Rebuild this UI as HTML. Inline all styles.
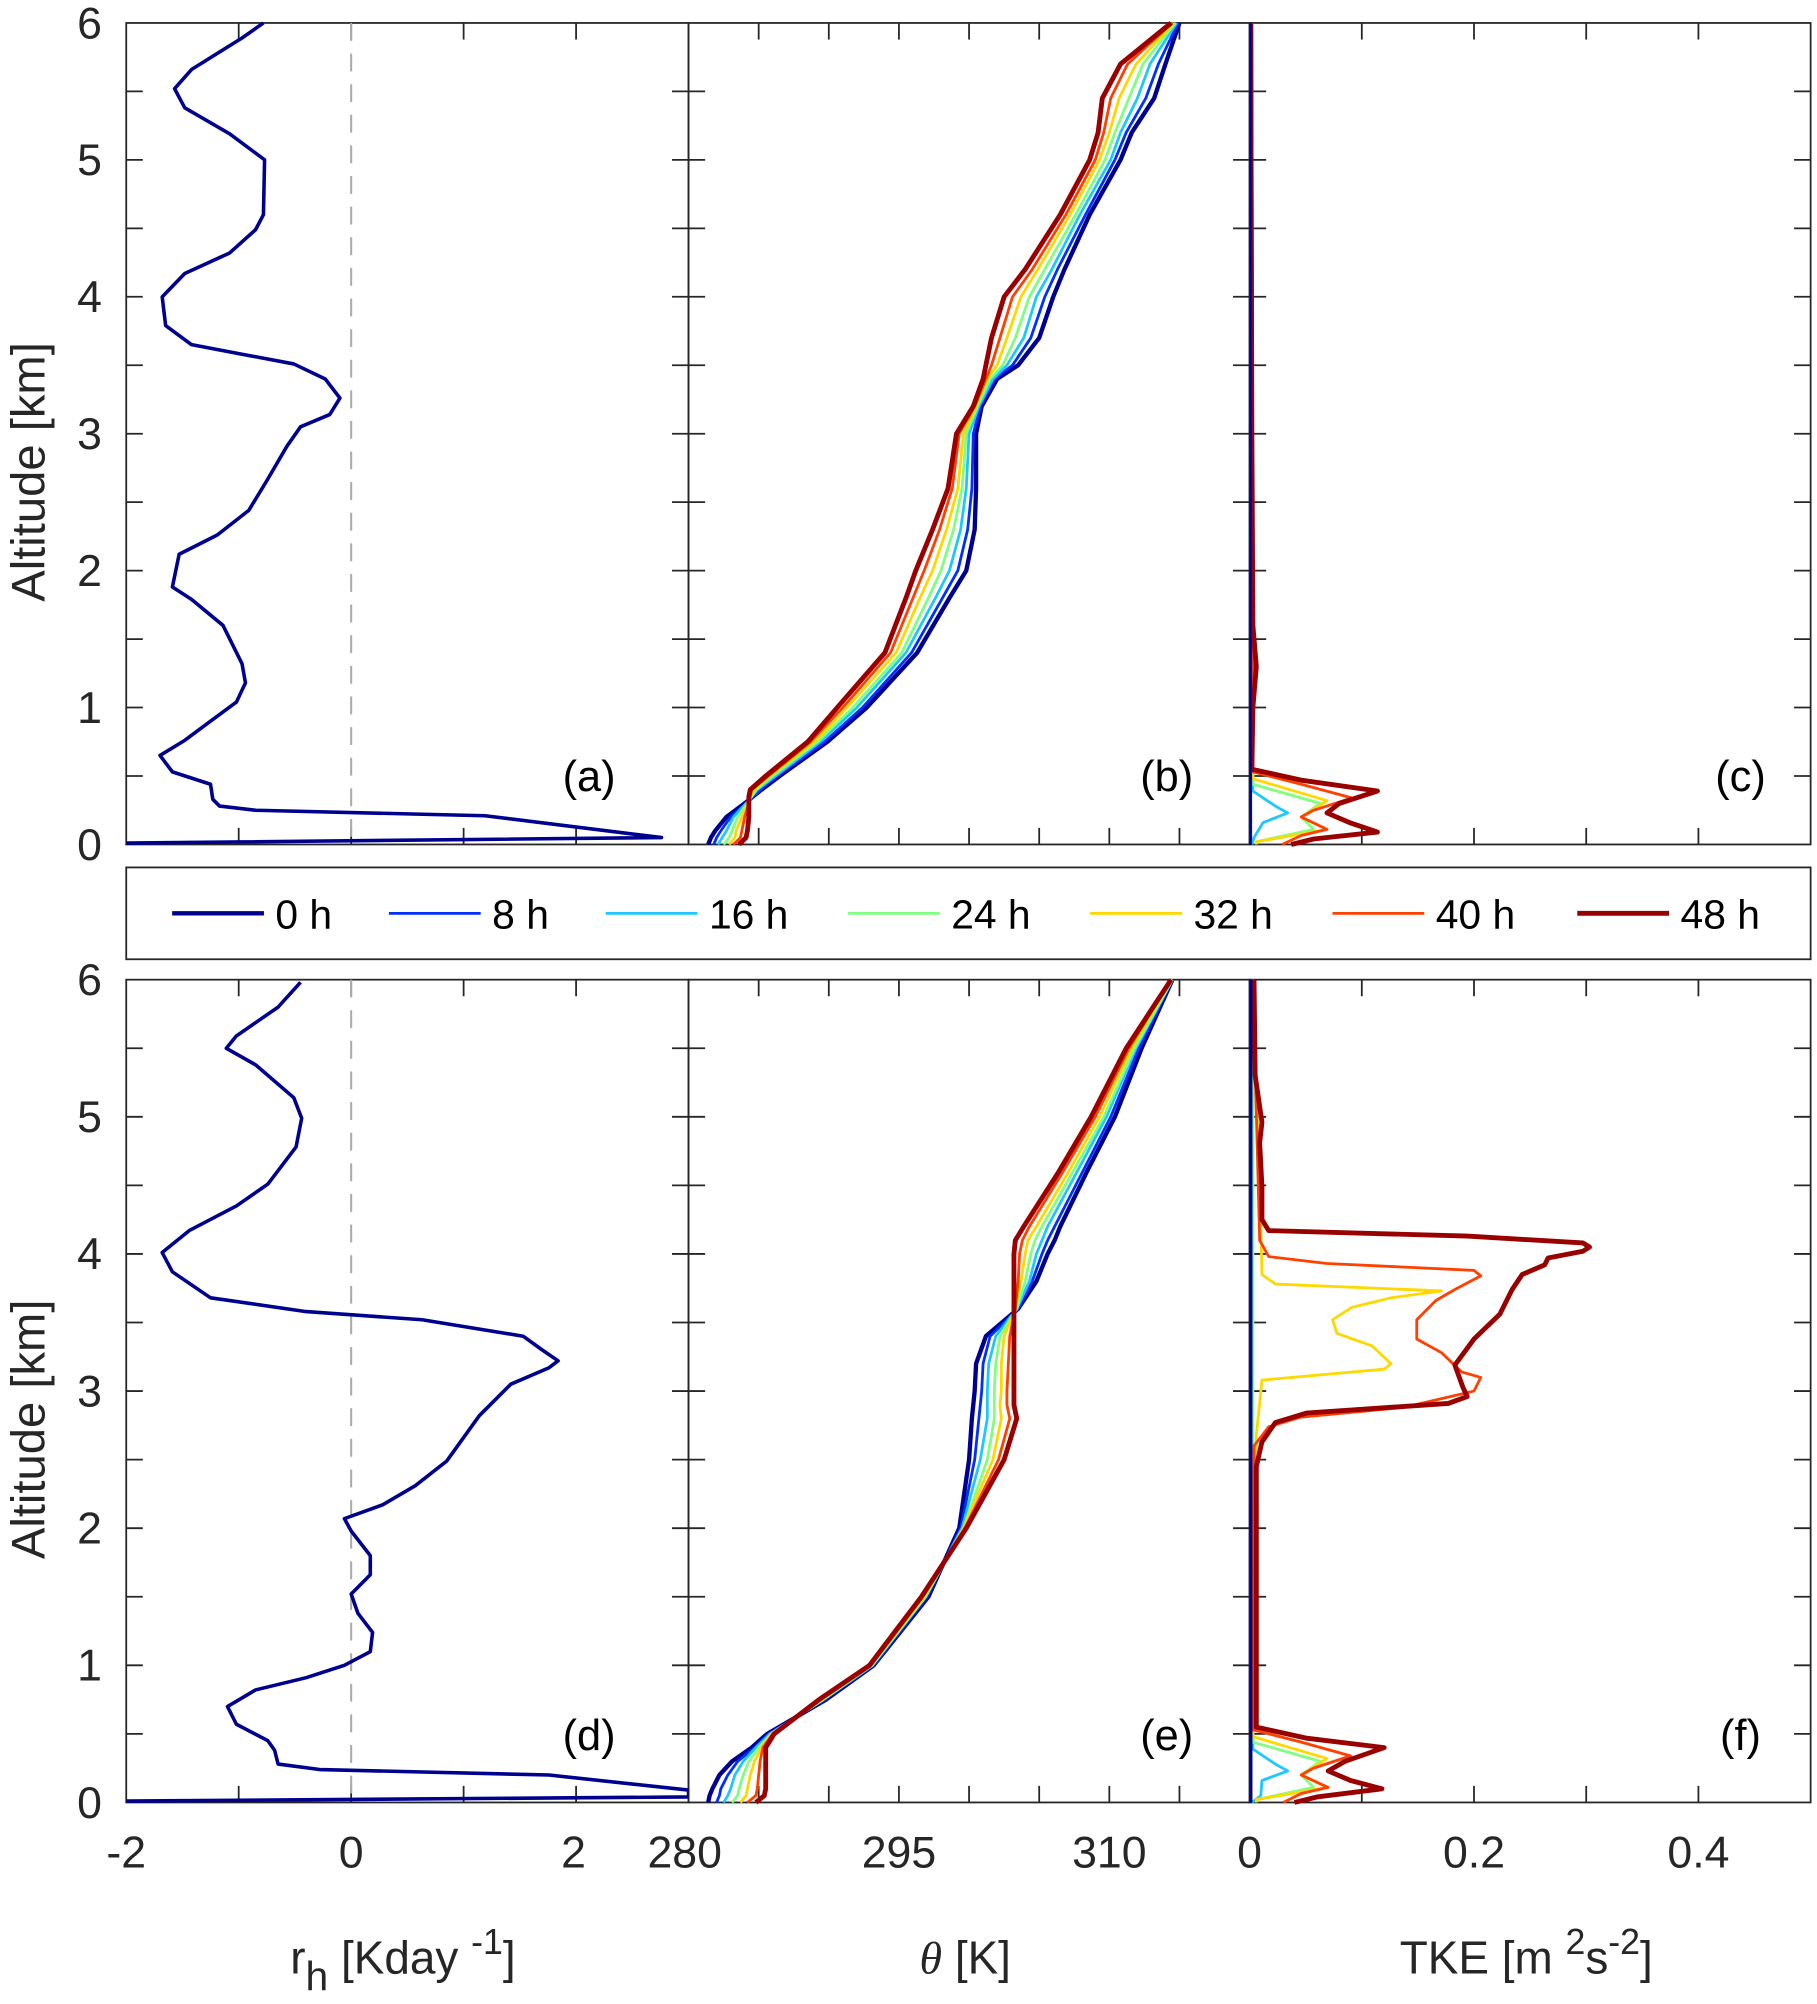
<!DOCTYPE html>
<html><head><meta charset="utf-8"><style>
html,body{margin:0;padding:0;background:#fff;}
svg{display:block;}
text{font-family:"Liberation Sans",Arial,sans-serif;}
</style></head>
<body>
<svg id="fig" width="1817" height="2004" viewBox="0 0 1425 1571" preserveAspectRatio="none" xmlns="http://www.w3.org/2000/svg"></svg>
<script>
// ---------- data ----------
const seriesNames = ["0 h","8 h","16 h","24 h","32 h","40 h","48 h"];
const seriesColors = ["#00008F","#0030FF","#1EC8FF","#80FF80","#FFD800","#FF4000","#990000"];
const seriesWidths = [3.4,2.2,2.2,2.2,2.2,2.2,3.8];

// panel a / d heating rate
const rhTopZ = [6,5.89,5.66,5.52,5.38,5.19,5.0,4.6,4.49,4.32,4.17,4.0,3.79,3.65,3.58,3.51,3.40,3.26,3.14,3.05,2.91,2.67,2.44,2.26,2.12,1.88,1.79,1.6,1.32,1.18,1.04,0.9,0.76,0.65,0.53,0.44,0.33,0.28,0.25,0.21,0.05,0.01];
const rhTopV = [-0.78,-0.97,-1.42,-1.57,-1.48,-1.08,-0.77,-0.78,-0.85,-1.08,-1.48,-1.68,-1.65,-1.42,-0.97,-0.51,-0.23,-0.1,-0.19,-0.45,-0.57,-0.74,-0.91,-1.19,-1.53,-1.59,-1.42,-1.14,-0.97,-0.94,-1.02,-1.25,-1.48,-1.70,-1.59,-1.25,-1.23,-1.17,-0.85,1.19,2.76,-2.0];
const rhBotZ = [5.98,5.8,5.59,5.5,5.38,5.14,4.99,4.78,4.51,4.35,4.17,4.01,3.87,3.68,3.58,3.52,3.40,3.30,3.22,3.17,3.05,2.82,2.49,2.31,2.17,2.07,1.98,1.80,1.66,1.52,1.38,1.24,1.10,1.0,0.91,0.82,0.70,0.57,0.45,0.38,0.28,0.24,0.2,0.09,0.04,0.01];
const rhBotV = [-0.45,-0.65,-1.02,-1.11,-0.85,-0.51,-0.44,-0.49,-0.74,-1.02,-1.44,-1.68,-1.59,-1.25,-0.40,0.63,1.53,1.70,1.84,1.76,1.42,1.14,0.85,0.57,0.28,-0.06,0,0.17,0.17,0,0.06,0.19,0.17,-0.06,-0.4,-0.85,-1.10,-1.02,-0.74,-0.68,-0.65,-0.28,1.76,3.0,3.0,-2.0];

// panel b theta
const thTopZ = [0,0.05,0.1,0.2,0.3,0.35,0.4,0.5,0.75,1.0,1.4,1.8,2.0,2.3,2.6,3.0,3.2,3.4,3.5,3.7,4.0,4.2,4.6,5.0,5.2,5.45,5.7,6.0];
const thTop0 = [281.4,281.6,281.9,282.7,284.0,284.6,285.2,286.5,289.9,292.7,296.3,298.6,299.8,300.4,300.5,300.5,300.9,302.0,303.5,305.0,306.0,306.8,308.6,310.8,311.6,313.2,314.0,315.0];
const thTop8 = [281.8,282.0,282.3,283.0,284.1,284.6,285.1,286.3,289.7,292.4,295.9,298.1,299.2,299.9,300.2,300.3,300.8,301.8,303.1,304.4,305.4,306.3,308.3,310.4,311.2,312.6,313.5,314.9];
const thTop16 = [282.1,282.4,282.7,283.2,284.1,284.5,284.9,286.2,289.4,292.0,295.5,297.6,298.6,299.4,299.8,300.0,300.7,301.7,302.7,303.9,304.8,305.9,307.9,310.1,310.8,312.0,312.9,314.8];
const thTop24 = [282.5,282.9,283.1,283.5,284.2,284.5,284.8,286.0,289.2,291.7,295.2,297.1,298.0,298.9,299.5,299.8,300.6,301.5,302.4,303.3,304.3,305.4,307.6,309.7,310.4,311.4,312.4,314.7];
const thTop32 = [282.9,283.3,283.4,283.8,284.2,284.4,284.7,285.8,289.0,291.3,294.8,296.5,297.4,298.4,299.2,299.6,300.5,301.3,302.0,302.7,303.7,304.9,307.2,309.3,310.0,310.7,311.9,314.6];
const thTop40 = [283.2,283.7,283.8,284.0,284.3,284.4,284.5,285.7,288.7,291.0,294.4,296.0,296.8,297.9,298.8,299.3,300.4,301.2,301.6,302.2,303.1,304.5,306.9,309.0,309.6,310.1,311.3,314.5];
const thTop48 = [283.6,284.1,284.2,284.3,284.3,284.3,284.4,285.5,288.5,290.6,294.0,295.5,296.2,297.4,298.5,299.1,300.3,301.0,301.2,301.6,302.5,304.0,306.5,308.6,309.2,309.5,310.8,314.4];

// panel e theta
const thBotZ = [0,0.05,0.1,0.2,0.3,0.4,0.5,0.75,1.0,1.5,2.0,2.5,2.8,2.9,3.0,3.2,3.4,3.6,3.8,4.0,4.1,4.2,4.6,5.0,5.5,6.0];
const thBot0 = [281.4,281.5,281.7,282.2,283.1,284.5,285.6,289.8,293.2,297.1,299.3,300.0,300.2,300.3,300.4,300.5,301.2,303.5,304.8,305.6,306.1,306.5,308.4,310.4,312.3,314.5];
const thBot8 = [282.0,282.2,282.3,282.8,283.5,284.7,285.7,289.7,293.2,297.0,299.4,300.4,300.7,300.8,300.9,301.0,301.5,303.5,304.5,305.2,305.6,306.1,308.1,310.1,312.1,314.5];
const thBot16 = [282.5,282.8,283.0,283.3,283.9,284.8,285.8,289.6,293.1,296.9,299.5,300.8,301.3,301.3,301.3,301.4,301.9,303.4,304.3,304.8,305.2,305.6,307.7,309.8,311.9,314.5];
const thBot24 = [283.1,283.5,283.6,283.9,284.3,285.0,285.9,289.6,293.1,296.9,299.6,301.3,301.8,301.8,301.8,301.9,302.2,303.4,304.0,304.4,304.7,305.2,307.4,309.6,311.8,314.5];
const thBot32 = [283.7,284.1,284.2,284.4,284.7,285.2,285.9,289.5,293.0,296.8,299.6,301.7,302.3,302.2,302.3,302.3,302.5,303.3,303.7,304.0,304.2,304.8,307.1,309.3,311.6,314.4];
const thBot40 = [284.2,284.8,284.9,285.0,285.1,285.3,286.0,289.4,293.0,296.7,299.7,302.1,302.9,302.7,302.7,302.8,302.9,303.3,303.5,303.6,303.8,304.3,306.7,309.0,311.4,314.4];
const thBot48 = [284.8,285.4,285.5,285.5,285.5,285.5,286.1,289.3,292.9,296.6,299.8,302.5,303.4,303.2,303.2,303.2,303.2,303.2,303.2,303.2,303.3,303.9,306.4,308.7,311.2,314.4];

// panel c TKE (top)
const tkeTopZ0 = [0,6]; const tkeTopV0 = [0,0];
const tkeTopZ8 = [0,6]; const tkeTopV8 = [0.001,0.001];
const tkeTopZ16 = [0,0.05,0.16,0.23,0.28,0.39,6]; const tkeTopV16 = [0.002,0.004,0.012,0.034,0.023,0.003,0.002];
const tkeTopZ24 = [0,0.02,0.11,0.2,0.3,0.44,6]; const tkeTopV24 = [0.006,0.006,0.057,0.046,0.063,0.003,0.002];
const tkeTopZ32 = [0,0.02,0.11,0.2,0.32,0.48,6]; const tkeTopV32 = [0.006,0.006,0.069,0.046,0.069,0.003,0.002];
const tkeTopZ40 = [0,0.065,0.11,0.2,0.25,0.34,0.44,0.53,6]; const tkeTopV40 = [0.029,0.046,0.069,0.046,0.057,0.091,0.046,0.003,0.002];
const tkeTopZ48 = [0,0.04,0.09,0.16,0.23,0.3,0.39,0.47,0.55,1.0,1.3,1.6,3.0,6.0]; const tkeTopV48 = [0.037,0.057,0.114,0.089,0.069,0.08,0.114,0.046,0.002,0.003,0.006,0.003,0.002,0.001];

// panel f TKE (bottom)
const tkeBotZ0 = [0,6]; const tkeBotV0 = [0,0];
const tkeBotZ8 = [0,6]; const tkeBotV8 = [0.001,0.001];
const tkeBotZ16 = [0,0.05,0.16,0.23,0.28,0.39,6]; const tkeBotV16 = [0.002,0.01,0.011,0.034,0.023,0.003,0.002];
const tkeBotZ24 = [0,0.02,0.11,0.2,0.3,0.44,6]; const tkeBotV24 = [0.006,0.006,0.057,0.046,0.063,0.003,0.003];
const tkeBotZ32 = [0,0.02,0.11,0.2,0.32,0.48,2.68,3.08,3.16,3.2,3.33,3.42,3.52,3.61,3.68,3.73,3.78,3.85,4.2,6.0];
const tkeBotV32 = [0.006,0.006,0.069,0.046,0.069,0.003,0.006,0.011,0.12,0.126,0.109,0.078,0.074,0.091,0.126,0.171,0.023,0.011,0.01,0.003];
const tkeBotZ40 = [0,0.065,0.11,0.2,0.25,0.34,0.44,0.53,2.6,2.74,2.81,2.88,3.0,3.1,3.14,3.28,3.38,3.52,3.66,3.74,3.84,3.88,3.93,3.98,4.1,6.0];
const tkeBotV40 = [0.03,0.046,0.07,0.046,0.057,0.09,0.046,0.003,0.004,0.017,0.046,0.137,0.2,0.206,0.189,0.171,0.149,0.149,0.166,0.183,0.206,0.2,0.069,0.017,0.009,0.003];
const tkeBotZ48 = [0,0.04,0.1,0.16,0.23,0.3,0.4,0.47,0.55,1.15,2.45,2.63,2.77,2.84,2.91,2.96,3.03,3.19,3.38,3.56,3.74,3.85,3.92,3.97,4.02,4.05,4.08,4.13,4.17,4.25,4.49,4.81,4.96,5.3,6.0];
const tkeBotV48 = [0.04,0.06,0.118,0.09,0.07,0.085,0.12,0.05,0.006,0.006,0.006,0.011,0.023,0.051,0.177,0.194,0.19,0.183,0.2,0.223,0.234,0.243,0.263,0.266,0.297,0.303,0.297,0.194,0.017,0.011,0.011,0.009,0.011,0.005,0.004];

const yTickLabels = ["0","1","2","3","4","5","6"];
const rhTickLabels = ["-2","0","2"];
const thTickLabels = ["280","295","310"];
const tkeTickLabels = ["0","0.2","0.4"];

// ---------- drawing ----------
const NS = "http://www.w3.org/2000/svg";
const svg = document.getElementById("fig");
function mk(tag, attrs, parent){
  const e = document.createElementNS(NS, tag);
  for (const k in attrs) e.setAttribute(k, attrs[k]);
  (parent||svg).appendChild(e);
  return e;
}
const AX = "#262626";
const colsX = [[99,540],[540,980],[980,1420]];
const rows = [[18,662],[768,1413]];
const xDom = [[-2,3],[280,320],[0,0.5]];
const xStep = [1,5,0.1];

function xs(c,v){ const d=xDom[c]; return colsX[c][0] + (v-d[0])/(d[1]-d[0])*(colsX[c][1]-colsX[c][0]); }
function ys(r,z){ return rows[r][1] - z/6*(rows[r][1]-rows[r][0]); }

function drawLine(c,r,zArr,vArr,color,w,name){
  let d = "";
  for (let i=0;i<zArr.length;i++){
    d += (i?"L":"M") + xs(c,vArr[i]).toFixed(1) + "," + ys(r,zArr[i]).toFixed(1);
  }
  const p = mk("path",{d:d,fill:"none",stroke:color,"stroke-width":w,"stroke-linejoin":"round","clip-path":"url(#clip"+c+r+")"});
  
  
}

const defs = mk("defs",{});
for (let c=0;c<3;c++) for (let r=0;r<2;r++){
  const cp = mk("clipPath",{id:"clip"+c+r},defs);
  mk("rect",{x:colsX[c][0],y:rows[r][0]-2,width:colsX[c][1]-colsX[c][0],height:rows[r][1]-rows[r][0]+4},cp);
}

const panelLetters = [["(a)","(b)","(c)"],["(d)","(e)","(f)"]];
const letterX = [462,915,1365];
for (let r=0;r<2;r++){
  for (let c=0;c<3;c++){
    const x0=colsX[c][0], x1=colsX[c][1], y0=rows[r][0], y1=rows[r][1];
    const g = mk("g",{});
    
    
    mk("rect",{x:x0,y:y0,width:x1-x0,height:y1-y0,fill:"none",stroke:AX,"stroke-width":1.4},g);
    for (let z=0.5; z<6; z+=0.5){
      const y=ys(r,z);
      mk("line",{x1:x0,x2:x0+13,y1:y,y2:y,stroke:AX,"stroke-width":1.4},g);
      mk("line",{x1:x1-13,x2:x1,y1:y,y2:y,stroke:AX,"stroke-width":1.4},g);
    }
    const d=xDom[c];
    for (let v=d[0]+xStep[c]; v<d[1]-1e-9; v+=xStep[c]){
      const x=xs(c,v);
      mk("line",{x1:x,x2:x,y1:y1,y2:y1-13,stroke:AX,"stroke-width":1.4},g);
      mk("line",{x1:x,x2:x,y1:y0,y2:y0+13,stroke:AX,"stroke-width":1.4},g);
    }
    const t = mk("text",{x:letterX[c],y:(r?1372:620),"font-size":34,"text-anchor":"middle",fill:"#000"});
    t.textContent = panelLetters[r][c];
    
    
  }
  for (let i=0;i<yTickLabels.length;i++){
    const t = mk("text",{x:80,y:ys(r,+yTickLabels[i])+12,"font-size":35,"text-anchor":"end",fill:AX});
    t.textContent = yTickLabels[i];
    
    
  }
  const yc = (rows[r][0]+rows[r][1])/2+30;
  const yt = mk("text",{x:0,y:0,"font-size":37,"text-anchor":"middle",fill:AX,transform:"translate(35,"+yc+") rotate(-90)"});
  yt.textContent = "Altitude [km]";
  
  
  const dz = mk("line",{x1:xs(0,0),x2:xs(0,0),y1:rows[r][0],y2:rows[r][1],stroke:"#AAAAAA","stroke-width":1.6,"stroke-dasharray":"14,10"});
  
  
}

drawLine(0,0,rhTopZ,rhTopV,"#00008F",2.8,"heating-rate-line");
drawLine(0,1,rhBotZ,rhBotV,"#00008F",2.8,"heating-rate-line");
const thTop=[thTop0,thTop8,thTop16,thTop24,thTop32,thTop40,thTop48];
const thBot=[thBot0,thBot8,thBot16,thBot24,thBot32,thBot40,thBot48];
const tkTZ=[tkeTopZ0,tkeTopZ8,tkeTopZ16,tkeTopZ24,tkeTopZ32,tkeTopZ40,tkeTopZ48];
const tkTV=[tkeTopV0,tkeTopV8,tkeTopV16,tkeTopV24,tkeTopV32,tkeTopV40,tkeTopV48];
const tkBZ=[tkeBotZ0,tkeBotZ8,tkeBotZ16,tkeBotZ24,tkeBotZ32,tkeBotZ40,tkeBotZ48];
const tkBV=[tkeBotV0,tkeBotV8,tkeBotV16,tkeBotV24,tkeBotV32,tkeBotV40,tkeBotV48];
for (const i of [0,1,2,3,4,5,6]){
  drawLine(1,0,thTopZ,thTop[i],seriesColors[i],seriesWidths[i],"theta-line-"+i*8+"h");
  drawLine(1,1,thBotZ,thBot[i],seriesColors[i],seriesWidths[i],"theta-line-"+i*8+"h");
}
for (const i of [2,3,4,5,6,1,0]){
  drawLine(2,0,tkTZ[i],tkTV[i],seriesColors[i],i===0?3.4:seriesWidths[i],"tke-line-"+i*8+"h");
  drawLine(2,1,tkBZ[i],tkBV[i],seriesColors[i],i===0?4.5:seriesWidths[i],"tke-line-"+i*8+"h");
}

const tickSets=[[0,rhTickLabels],[1,thTickLabels],[2,tkeTickLabels]];
for (const [c,labs] of tickSets){
  for (const l of labs){
    let x=xs(c,+l);
    if (c===1 && l==="280") { x = x-3; }
    if (c===0 && l==="2") { x = x-2; }
    const t = mk("text",{x:x,y:1464,"font-size":35,"text-anchor":"middle",fill:AX});
    t.textContent = l;
    
    
  }
}

let t1 = mk("text",{x:316,y:1547,"font-size":36,"text-anchor":"middle",fill:AX});
t1.innerHTML = 'r<tspan dy="13" font-size="32">h</tspan><tspan dy="-13"> [Kday </tspan><tspan dy="-15" font-size="28">-1</tspan><tspan dy="15">]</tspan>';


let t2 = mk("text",{x:757,y:1547,"font-size":36,"text-anchor":"middle",fill:AX});
t2.innerHTML = '<tspan font-family="Liberation Serif" font-style="italic">θ</tspan> [K]';


let t3 = mk("text",{x:1197,y:1547,"font-size":36,"text-anchor":"middle",fill:AX});
t3.innerHTML = 'TKE [m <tspan dy="-15" font-size="28">2</tspan><tspan dy="15">s</tspan><tspan dy="-15" font-size="28">-2</tspan><tspan dy="15">]</tspan>';



const lg = mk("g",{});


mk("rect",{x:99,y:680,width:1321,height:72,fill:"#fff",stroke:AX,"stroke-width":1.4},lg);
const legLineX=[135,305,475,665,855,1045,1237];
for (let i=0;i<7;i++){
  const eg = mk("g",{},lg);
  
  
  mk("line",{x1:legLineX[i],x2:legLineX[i]+72,y1:716,y2:716,stroke:seriesColors[i],"stroke-width":seriesWidths[i]},eg);
  const t = mk("text",{x:legLineX[i]+81,y:728,"font-size":32,fill:"#000"},eg);
  t.textContent = seriesNames[i];
}
</script>
</body></html>
